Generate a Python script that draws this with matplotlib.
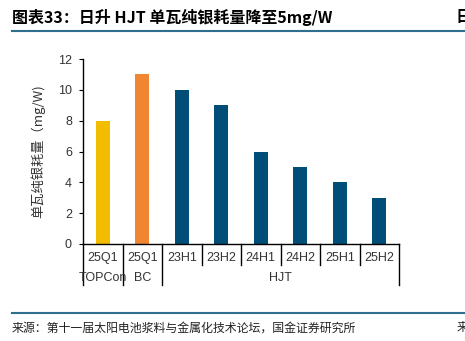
import matplotlib
matplotlib.use('Agg')
import matplotlib.pyplot as plt

plt.rcParams['font.family'] = ['Liberation Sans', 'Noto Sans CJK SC', 'DejaVu Sans']

# 数据
categories = ['25Q1', '25Q1', '23H1', '23H2', '24H1', '24H2', '25H1', '25H2']
values = [8, 11, 10, 9, 6, 5, 4, 3]
bar_colors = ['#F2BC00', '#F08532', '#004E78', '#004E78', '#004E78',
              '#004E78', '#004E78', '#004E78']
groups = ['TOPCon', 'BC', 'HJT']
group_spans = [(0, 1), (1, 2), (2, 8)]
yticks = [0, 2, 4, 6, 8, 10, 12]

W, H = 465, 341
fig = plt.figure(figsize=(W / 100, H / 100), dpi=100)

# 坐标区（按像素位置）
ax = fig.add_axes([83 / W, 97 / H, (399 - 83) / W, (282 - 97) / H])
x = list(range(len(categories)))
ax.bar(x, values, width=0.36, color=bar_colors)
ax.set_xlim(-0.5, len(categories) - 0.5)
ax.set_ylim(0, 12)
ax.set_yticks(yticks)
ax.tick_params(axis='y', length=3, width=0.8, labelsize=9, pad=5,
               colors='black', labelcolor='#333333')
ax.set_xticks([])
for s in ['top', 'right']:
    ax.spines[s].set_visible(False)
ax.spines['left'].set_linewidth(1.0)
ax.spines['bottom'].set_linewidth(1.0)

ax.set_ylabel('单瓦纯银耗量（mg/W)', fontsize=9.5, color='#333333',
              family=['Noto Sans CJK SC', 'DejaVu Sans'])
ax.yaxis.set_label_coords(-38 / (399 - 83), 0.5)

# 分类轴的分隔线和标签
trans = ax.get_xaxis_transform()
px = 1.0 / (282 - 97)
long_edges = {0, 1, 2, len(categories)}
for i in range(len(categories) + 1):
    depth = 41 if i in long_edges else 21
    ax.plot([i - 0.5, i - 0.5], [0, -depth * px], color='black', lw=1.0,
            transform=trans, clip_on=False)
for i, c in enumerate(categories):
    ax.text(i, -14 * px, c, transform=trans, ha='center', va='center',
            fontsize=9, color='#333333')
for g, (a, b) in zip(groups, group_spans):
    ax.text((a + b - 1) / 2, -34 * px, g, transform=trans, ha='center',
            va='center', fontsize=9, color='#333333')

# 标题与来源
fig.text(12 / W, 1 - 17 / H, '图表33：日升 HJT 单瓦纯银耗量降至5mg/W', fontsize=11.5,
         fontweight='bold', va='center', ha='left',
         family=['Noto Sans CJK SC', 'DejaVu Sans'])
fig.text(455 / W, 1 - 17 / H, '日', fontsize=11.5, fontweight='bold',
         va='center', ha='left', family=['Noto Sans CJK SC'])
fig.lines.append(plt.Line2D([12 / W, 1], [1 - 31 / H, 1 - 31 / H],
                            transform=fig.transFigure, color='#2E6E8E', lw=1.5))
fig.lines.append(plt.Line2D([12 / W, 1], [1 - 313 / H, 1 - 313 / H],
                            transform=fig.transFigure, color='#2E6E8E', lw=1.5))
fig.text(12 / W, 1 - 328 / H, '来源：第十一届太阳电池浆料与金属化技术论坛，国金证券研究所',
         fontsize=8.6, va='center', ha='left', color='#222222',
         family=['Noto Sans CJK SC', 'DejaVu Sans'])
fig.text(457 / W, 1 - 328 / H, '来', fontsize=8.6, va='center', ha='left',
         color='#222222', family=['Noto Sans CJK SC'])

fig.savefig('out.png', dpi=100)
